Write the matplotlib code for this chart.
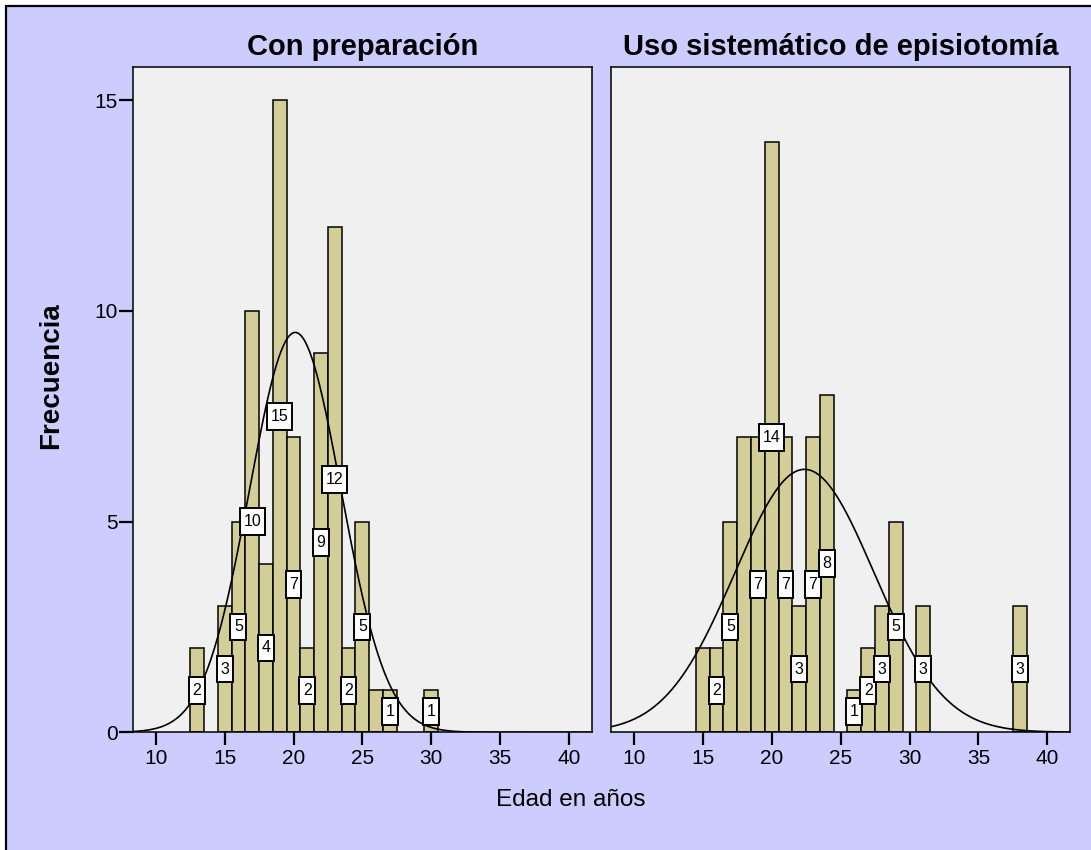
import numpy as np
import matplotlib
matplotlib.use("Agg")
import matplotlib.pyplot as plt
from matplotlib.patches import Rectangle
from matplotlib.path import Path

plt.rcParams['font.family'] = ['Liberation Sans', 'DejaVu Sans']

# edades (centro de barra) y frecuencias
edad_prep = [13, 15, 16, 17, 18, 19, 20, 21, 22, 23, 24, 25, 26, 27, 30]
frec_prep = [2, 3, 5, 10, 4, 15, 7, 2, 9, 12, 2, 5, 1, 1, 1]
etiq_prep = [13, 15, 16, 17, 18, 19, 20, 21, 22, 23, 24, 25, 27, 30]

edad_epis = [15, 16, 17, 18, 19, 20, 21, 22, 23, 24, 26, 27, 28, 29, 31, 38]
frec_epis = [2, 2, 5, 7, 7, 14, 7, 3, 7, 8, 1, 2, 3, 5, 3, 3]
etiq_epis = [16, 17, 19, 20, 21, 22, 23, 24, 26, 27, 28, 29, 31, 38]

titulos = ["Con preparación", "Uso sistemático de episiotomía"]
xticks = [10, 15, 20, 25, 30, 35, 40]
yticks = [0, 5, 10, 15]

bar_color = "#D3CE98"
bg_color = "#CCCCFF"
ax_color = "#F0F0F0"


def caja(x0, y0, width, height, mutation_size):
    # caja rectangular, mas relleno vertical que horizontal
    px = 0.22 * mutation_size
    py = 0.37 * mutation_size
    x0, x1 = x0 - px, x0 + width + px
    y0, y1 = y0 - py, y0 + height + py
    return Path([(x0, y0), (x1, y0), (x1, y1), (x0, y1), (x0, y0)], closed=True)


fig = plt.figure(figsize=(10.91, 8.5), dpi=100)
fig.patch.set_facecolor("white")
fig.patches.append(Rectangle((6/1091, -0.05), 1.1, 0.05 + 844/850, transform=fig.transFigure,
                             facecolor=bg_color, edgecolor="black", linewidth=1.6, zorder=-10))

ax1 = fig.add_axes([0.1216, 0.1385, 0.4207, 0.7824])
ax2 = fig.add_axes([0.5598, 0.1385, 0.4210, 0.7824])

datos = [(ax1, edad_prep, frec_prep, etiq_prep), (ax2, edad_epis, frec_epis, etiq_epis)]

for i, (ax, edad, frec, etiq) in enumerate(datos):
    ax.set_facecolor(ax_color)
    ax.bar(edad, frec, width=1.0, color=bar_color, edgecolor="black", linewidth=1.1, zorder=2)

    # curva normal con la media y desviacion de los datos
    vals = np.repeat(edad, frec)
    n = len(vals)
    mu = vals.mean()
    sd = vals.std(ddof=1)
    xs = np.linspace(8.32, 41.65, 400)
    ys = n / (sd * np.sqrt(2 * np.pi)) * np.exp(-0.5 * ((xs - mu) / sd) ** 2)
    ax.plot(xs, ys, color="black", linewidth=1.2, zorder=3)

    for x, f in zip(edad, frec):
        if x in etiq:
            ax.text(x, f / 2, str(f), ha="center", va="center", fontsize=11.5, zorder=4,
                    bbox=dict(boxstyle=caja, facecolor="white", edgecolor="black", linewidth=1.4))

    ax.set_xlim(8.32, 41.65)
    ax.set_ylim(0, 15.78)
    ax.set_xticks(xticks)
    ax.set_yticks(yticks)
    ax.tick_params(axis="x", direction="out", length=9, width=1.6, labelsize=15, pad=3)
    ax.tick_params(axis="y", direction="out", length=10, width=1.6, labelsize=15, pad=1)
    for s in ax.spines.values():
        s.set_linewidth(1.1)
        s.set_color("black")
    ax.set_title(titulos[i], fontsize=21, fontweight="bold", pad=9)

ax2.tick_params(axis="y", left=False, labelleft=False)

fig.text(50.7/1091, 1 - 376/850, "Frecuencia", rotation=90, ha="center", va="center",
         fontsize=20, fontweight="bold")
fig.text(571/1091, 1 - 800/850, "Edad en años", ha="center", va="center", fontsize=17.5)

fig.savefig("out.png", dpi=100, facecolor=fig.get_facecolor())
